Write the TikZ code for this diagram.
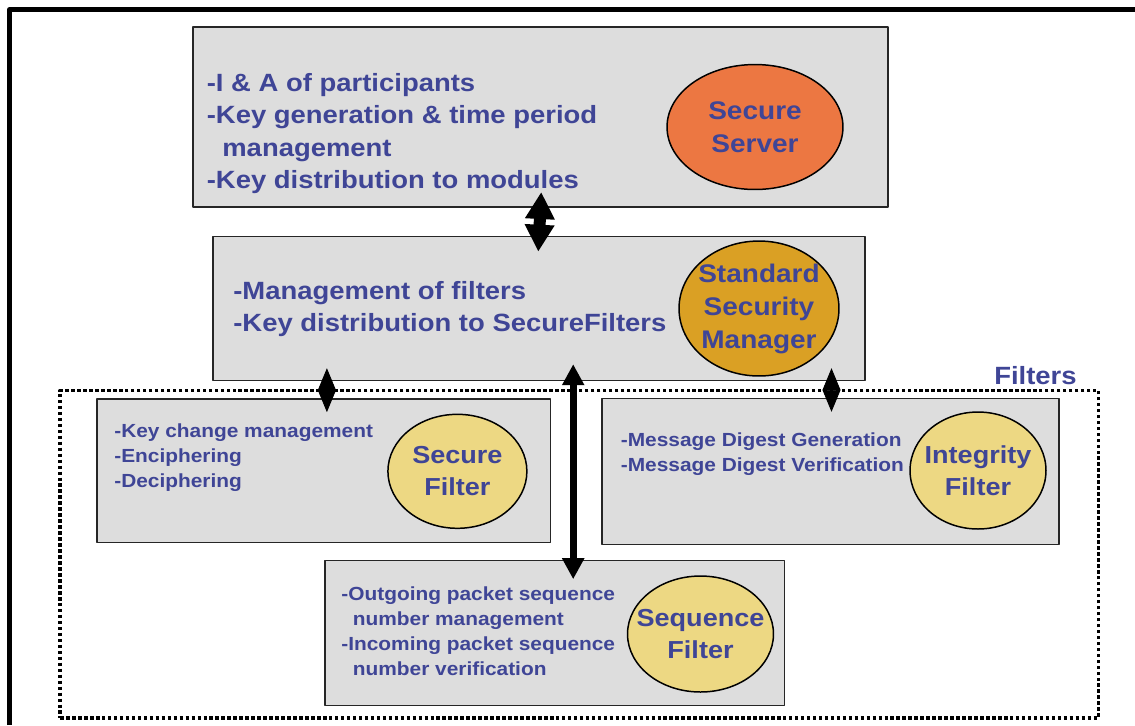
\documentclass[tikz,border=0pt]{standalone}
\usepackage{fontspec}
\setmainfont{Liberation Sans}[FakeStretch=1.1]
\usetikzlibrary{arrows.meta,shapes.geometric,positioning}
\definecolor{ink}{HTML}{3F4596}
\definecolor{panelgray}{HTML}{DDDDDD}
\definecolor{servercol}{HTML}{EC7742}
\definecolor{managercol}{HTML}{DAA024}
\definecolor{filtercol}{HTML}{EDD883}
\newcommand\biglist{\bfseries\fontsize{14.2}{18.4}\selectfont}
\newcommand\smalllist{\bfseries\fontsize{10.8}{14.2}\selectfont}
\tikzset{
  every picture/.style={line join=round, >=Triangle},
  panel/.style={draw=black!85, fill=panelgray, line width=0.85pt, inner sep=0pt, outer sep=0pt},
  module/.style={ellipse, draw, line width=0.85pt, inner sep=0pt, outer sep=0pt},
  moduletext/.style={text=ink, align=center, inner sep=0pt},
  duties/.style={text=ink, align=left, anchor=west, inner sep=0pt},
  filtergroup/.style={draw, line width=2pt, dash pattern=on 2pt off 1.4pt, inner sep=0pt, outer sep=0pt},
  bigduplex/.style={line width=0.24cm, {Triangle[width=0.56cm,length=0.54cm]}-{Triangle[width=0.56cm,length=0.54cm]}},
  diamondlink/.style={line width=0.5pt, {Triangle[width=0.36cm,length=0.44cm]}-{Triangle[width=0.36cm,length=0.44cm]}},
  longlink/.style={line width=0.14cm, {Triangle[width=0.42cm,length=0.42cm]}-{Triangle[width=0.42cm,length=0.42cm]}},
}

\begin{document}
\begin{tikzpicture}[x=0.02cm,y=-0.02cm]
\useasboundingbox (0,0) rectangle (1135,725);
\draw[line width=2.45pt] (9.5,725) |- (1135,9.5);

% secure server
\node[panel, minimum width=13.9cm, minimum height=3.6cm] (serverbox) at (540.5,117) {};
\node[module, fill=servercol, minimum width=3.52cm, minimum height=2.5cm,
  label={[moduletext, font=\bfseries\fontsize{14.5}{18.8}\selectfont]center:Secure\\Server}] (server) at (755,127) {};
\node[duties, font=\biglist] (serverduties) at (206.5,133.6)
  {-I \& A of participants\\-Key generation \& time period\\\hspace*{0.31cm}management\\-Key distribution to modules};

% standard security manager
\node[panel, minimum width=13.04cm, minimum height=2.88cm] (ssmbox) at (539,308.7) {};
\node[module, fill=managercol, minimum width=3.2cm, minimum height=2.7cm,
  label={[moduletext, font=\bfseries\fontsize{14.5}{18.8}\selectfont]center:Standard\\Security\\Manager}] (ssm) at (759,308.5) {};
\node[duties, font=\biglist] (ssmduties) at (233,309)
  {-Management of filters\\-Key distribution to SecureFilters};

% filters
\node[filtergroup, minimum width=20.77cm, minimum height=6.55cm] (filters) at (579.3,554.25) {};
\node[anchor=base east, text=ink, inner sep=0pt, font=\bfseries\fontsize{14.2}{18}\selectfont]
  (filterslabel) at ([xshift=-0.43cm,yshift=0.13cm]filters.north east) {Filters};

\node[panel, minimum width=9.07cm, minimum height=2.87cm] (securebox) at (323.9,470.9) {};
\node[module, fill=filtercol, minimum width=2.78cm, minimum height=2.28cm,
  label={[moduletext, font=\bfseries\fontsize{14}{18.4}\selectfont]center:Secure\\Filter}] (secure) at (457.4,471.3) {};
\node[duties, font=\smalllist] (secureduties) at (114,458)
  {-Key change management\\-Enciphering\\-Deciphering};

\node[panel, minimum width=9.14cm, minimum height=2.92cm] (integritybox) at (830.5,471.3) {};
\node[module, fill=filtercol, minimum width=2.72cm, minimum height=2.34cm,
  label={[moduletext, font=\bfseries\fontsize{14}{18.4}\selectfont]center:Integrity\\Filter}] (integrity) at (978,470.5) {};
\node[duties, font=\smalllist] (integrityduties) at (620.5,454.5)
  {-Message Digest Generation\\-Message Digest Verification};

\node[panel, minimum width=9.19cm, minimum height=2.9cm] (sequencebox) at (554.7,633.2) {};
\node[module, fill=filtercol, minimum width=2.92cm, minimum height=2.32cm,
  label={[moduletext, font=\bfseries\fontsize{14}{18.4}\selectfont]center:Sequence\\Filter}] (sequence) at (700.5,634) {};
\node[duties, font=\smalllist] (sequenceduties) at (341,631)
  {-Outgoing packet sequence\\\hspace*{0.23cm}number management\\-Incoming packet sequence\\\hspace*{0.23cm}number verification};

% links
\draw[bigduplex, shorten <=-0.3cm, shorten >=-0.3cm] (serverbox.south) -- (ssmbox.north);
\draw[diamondlink, shorten <=-0.25cm, shorten >=-0.26cm]
  ([xshift=0.06cm]securebox.north |- ssmbox.south) -- ([xshift=0.06cm]securebox.north);
\draw[diamondlink, shorten <=-0.25cm, shorten >=-0.27cm]
  ([xshift=0.02cm]integritybox.north |- ssmbox.south) -- ([xshift=0.02cm]integritybox.north);
\draw[longlink, shorten <=-0.33cm, shorten >=-0.37cm]
  ([xshift=0.37cm]sequencebox.north |- ssmbox.south) -- ([xshift=0.37cm]sequencebox.north);
\end{tikzpicture}
\end{document}
